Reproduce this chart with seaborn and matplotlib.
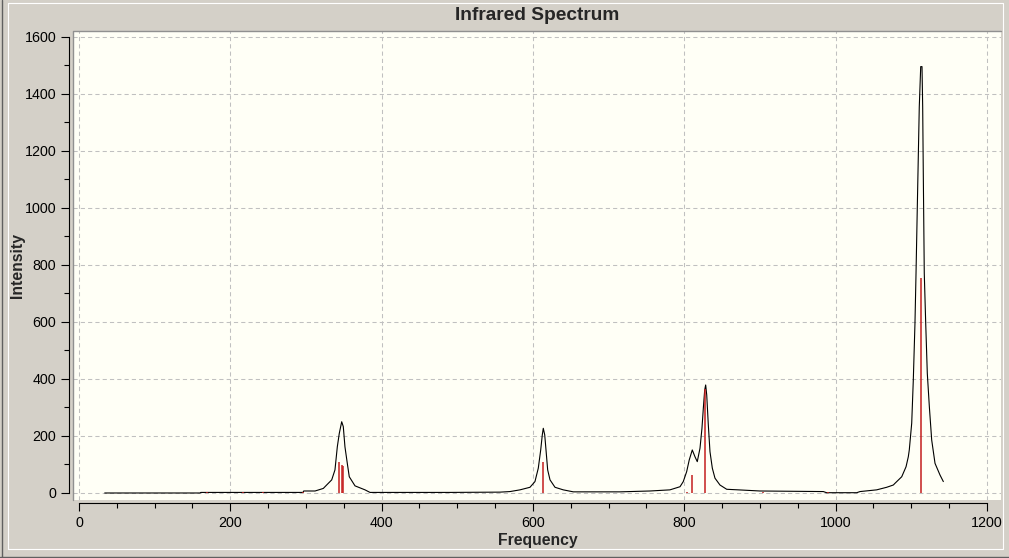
"""Infrared spectrum: broadened curve plus stick intensities."""

import numpy as np
import pandas as pd
import matplotlib
matplotlib.use("Agg")
import matplotlib.pyplot as plt
from matplotlib.ticker import MultipleLocator
from matplotlib.lines import Line2D
import seaborn as sns

# broadened spectrum
freq = [
    34, 160, 161, 296, 297, 312, 322.9, 327.3, 334, 338.3, 341.4, 344, 347.2,
    349.3, 351.5, 354.6, 357.2, 364.8, 378, 384.6, 490, 556.4, 569.6, 582.8,
    596, 602.6, 607, 610.2, 612.3, 613.6, 615.5, 617.2, 619.4, 622.5, 629.1,
    640, 653.3, 715, 754.6, 781, 794.3, 798.6, 803.1, 806.5, 810.5, 814.1,
    817.1, 820.7, 823.3, 825.1, 826.9, 828.2, 829.6, 831.7, 833.9, 837,
    840.5, 847.1, 856, 871.3, 900, 983.7, 988, 1027.8, 1032.2, 1054.2,
    1067.4, 1076.2, 1078.4, 1087.3, 1093, 1096, 1097.3, 1100.5, 1102.6,
    1104.8, 1106.2, 1107.9, 1109.2, 1110.5, 1112.4, 1114.1, 1115, 1115.8,
    1117.1, 1119, 1121.1, 1123.8, 1126.9, 1131.3, 1137.9, 1142.3,
]
intensity = [
    0, 0, 2, 2, 7, 7, 16, 28, 46, 81, 162, 209, 250,
    233, 162, 104, 57, 25, 11, 2, 2, 3, 5, 11,
    20, 40, 87, 151, 204, 227, 204, 151, 81, 46, 20,
    11, 4, 4, 7, 11, 22, 40, 75, 116, 151, 127,
    110, 157, 227, 297, 361, 379, 344, 239, 145, 87,
    52, 28, 13, 11, 7, 5, 1, 1, 5, 11,
    20, 28, 34, 57, 92, 127, 151, 245, 396,
    595, 771, 1004, 1180, 1355, 1496, 1496, 1355, 1122,
    771, 595, 420, 303, 186, 104, 63, 40,
]

# stick spectrum
stick_freq = [169, 217, 243, 296, 344, 348, 349, 613.6, 804, 810.5, 827.7, 904, 990, 1113]
stick_int = [2, 2, 2, 2, 110, 98, 95, 110, 2, 63, 364, 2, 2, 754]

x_ticks = [0, 200, 400, 600, 800, 1000, 1200]
y_ticks = [0, 200, 400, 600, 800, 1000, 1200, 1400, 1600]

W, H = 1009, 558
GRAY = "#d4d0c8"

sns.set_style("ticks")
plt.rcParams["font.family"] = ["Liberation Sans", "DejaVu Sans"]

fig = plt.figure(figsize=(W / 100, H / 100), dpi=100, facecolor=GRAY)
ax = fig.add_axes([73 / W, 58 / H, 928 / W, 469 / H])
ax.set_facecolor("#fffff6")

spectrum = pd.DataFrame({"Frequency": freq, "Intensity": intensity})
sns.lineplot(
    data=spectrum, x="Frequency", y="Intensity", sort=False, estimator=None,
    color="black", linewidth=0.8, ax=ax, zorder=2,
)
ax.vlines(stick_freq, 0, stick_int, color="#c41e1e", linewidth=1.1, zorder=3)

ax.set_xlim(-7.9, 1218.5)
ax.set_ylim(-24.6, 1621)
ax.set_xticks(x_ticks)
ax.set_yticks(y_ticks)
ax.xaxis.set_minor_locator(MultipleLocator(50))
ax.yaxis.set_minor_locator(MultipleLocator(100))
ax.tick_params(which="major", length=6, width=0.8, labelsize=10.3, pad=3,
               color="black", labelcolor="black")
ax.tick_params(which="minor", length=3.8, width=0.8, color="black")

ax.set_axisbelow(True)
ax.grid(True, which="major", color="#c0c0c0", linestyle=(0, (4, 3)), linewidth=0.75)

for side in ["top", "right"]:
    ax.spines[side].set_visible(False)
ax.spines["left"].set_position(("outward", 3))
ax.spines["left"].set_bounds(0, 1600)
ax.spines["bottom"].set_position(("outward", 2.5))
ax.spines["bottom"].set_bounds(0, 1200)
for side in ["left", "bottom"]:
    ax.spines[side].set_color("black")
    ax.spines[side].set_linewidth(0.8)

# sunken edge of the plot panel
ax.plot([0, 0, 1], [0, 1, 1], transform=ax.transAxes, color="#909090",
        linewidth=1, clip_on=False, zorder=4)

ax.set_xlabel("")
ax.set_ylabel("")
fig.text(537 / W, 1 - 15.5 / H, "Infrared Spectrum", ha="center", va="center",
         fontsize=13.8, fontweight="bold")
fig.text(538 / W, 1 - 540 / H, "Frequency", ha="center", va="center",
         fontsize=11.3, fontweight="bold")
fig.text(18 / W, 1 - 265 / H, "Intensity", ha="center", va="center",
         rotation=90, fontsize=11.3, fontweight="bold")

# window frame
fig.add_artist(Line2D([8 / W, 1003 / W, 1003 / W, 8 / W, 8 / W],
                      [1 - 3 / H, 1 - 3 / H, 1 - 549 / H, 1 - 549 / H, 1 - 3 / H],
                      color="white", linewidth=0.8))
fig.add_artist(Line2D([1.5 / W, 1.5 / W], [0, 1], color="#606060", linewidth=1))
fig.add_artist(Line2D([0, 1], [1.5 / H, 1.5 / H], color="#606060", linewidth=1))

fig.savefig("out.png", dpi=100, facecolor=GRAY)
